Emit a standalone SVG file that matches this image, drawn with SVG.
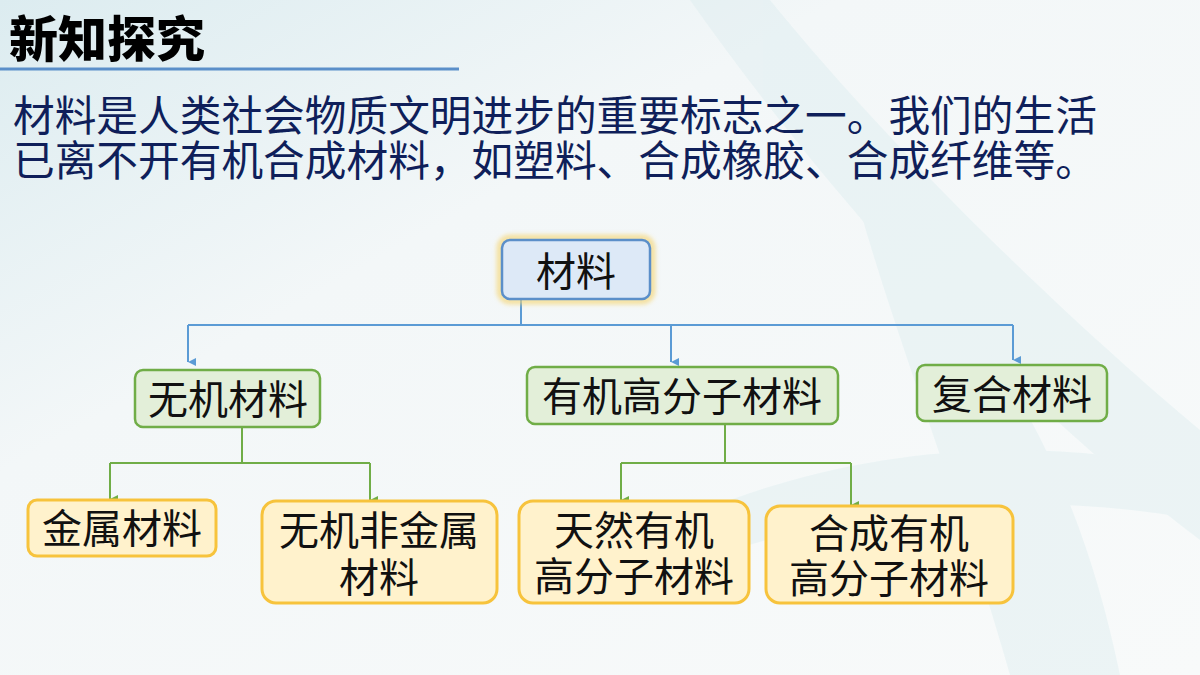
<svg xmlns="http://www.w3.org/2000/svg" width="1200" height="675" viewBox="0 0 1200 675">
  <defs>
    <linearGradient id="bg" x1="0" y1="0" x2="1" y2="1">
      <stop offset="0" stop-color="#dcecf0"/>
      <stop offset="0.35" stop-color="#f3f7f8"/>
      <stop offset="1" stop-color="#f8fafa"/>
    </linearGradient>
    <filter id="glow" x="-20%" y="-30%" width="140%" height="160%">
      <feGaussianBlur stdDeviation="2"/>
    </filter>
    <marker id="arrB" markerWidth="10" markerHeight="10" refX="5" refY="9" orient="auto" markerUnits="userSpaceOnUse">
      <path d="M1,1 L9,1 L5,9 Z" fill="#5b9bd5"/>
    </marker>
    <marker id="arrG" markerWidth="10" markerHeight="10" refX="5" refY="9" orient="auto" markerUnits="userSpaceOnUse">
      <path d="M1,1 L9,1 L5,9 Z" fill="#70ad47"/>
    </marker>
    <style>
      .cjk { font-family: "Noto Sans CJK SC", "Noto Sans", sans-serif; }
      .para { font-size: 41.7px; fill: #0f1f5a; }
      .lbl { font-size: 40px; fill: #111; text-anchor: middle; }
      .blue { fill: #dde9f7; stroke: #5b8fc9; stroke-width: 2.5; }
      .green { fill: #e3efd9; stroke: #70ad47; stroke-width: 2.5; }
      .yellow { fill: #fff2cc; stroke: #f7c33c; stroke-width: 3; }
      .cb { fill: none; stroke: #5b9bd5; stroke-width: 2; }
      .cg { fill: none; stroke: #70ad47; stroke-width: 2; }
    </style>
  </defs>

  <!-- background -->
  <rect x="0" y="0" width="1200" height="675" fill="url(#bg)"/>
  <g fill="#cfe7ea" opacity="0.28">
    <path d="M690,0 L770,0 C900,160 1080,330 1200,430 L1200,540 C1040,420 860,240 690,0 Z"/>
    <path d="M860,210 C1000,330 1080,480 1120,675 L1010,675 C960,500 900,350 860,210 Z"/>
    <path d="M600,560 C760,470 960,420 1200,470 L1200,520 C980,480 780,520 600,600 Z"/>
  </g>

  <!-- title -->
  <g id="title">
    <text x="9" y="57" class="cjk" font-size="49" font-weight="900" fill="#000">新知探究</text>
    <line x1="0" y1="69" x2="459" y2="69" stroke="#5b8fc9" stroke-width="3"/>
  </g>

  <!-- paragraph -->
  <g id="paragraph" class="cjk para">
    <text x="13" y="131">材料是人类社会物质文明进步的重要标志之一。我们的生活</text>
    <text x="13" y="176">已离不开有机合成材料，如塑料、合成橡胶、合成纤维等。</text>
  </g>

  <!-- connectors -->
  <g id="connectors">
    <path class="cb" d="M521,299 V325 M188,325 H1013"/>
    <path class="cb" d="M188,325 V362" marker-end="url(#arrB)"/>
    <path class="cb" d="M671,325 V362" marker-end="url(#arrB)"/>
    <path class="cb" d="M1013,325 V360" marker-end="url(#arrB)"/>
    <path class="cg" d="M242,427 V463 M110,463 H370"/>
    <path class="cg" d="M110,463 V499" marker-end="url(#arrG)"/>
    <path class="cg" d="M370,463 V500" marker-end="url(#arrG)"/>
    <path class="cg" d="M725,424 V463 M621,463 H851"/>
    <path class="cg" d="M621,463 V500" marker-end="url(#arrG)"/>
    <path class="cg" d="M851,463 V505" marker-end="url(#arrG)"/>
  </g>

  <!-- nodes -->
  <g id="node-cailiao">
    <rect x="500" y="238" width="152" height="63" rx="10" fill="none" stroke="#f5d77a" stroke-width="7" opacity="0.7" filter="url(#glow)"/>
    <rect x="502" y="240" width="148" height="59" rx="8" class="blue"/>
    <text x="576" y="286" class="cjk lbl">材料</text>
  </g>
  <g id="node-wuji">
    <rect x="135" y="370" width="185" height="57" rx="8" class="green"/>
    <text x="228" y="414" class="cjk lbl">无机材料</text>
  </g>
  <g id="node-youji">
    <rect x="527" y="367" width="311" height="57" rx="8" class="green"/>
    <text x="682" y="411" class="cjk lbl">有机高分子材料</text>
  </g>
  <g id="node-fuhe">
    <rect x="917" y="365" width="190" height="56" rx="8" class="green"/>
    <text x="1012" y="409" class="cjk lbl">复合材料</text>
  </g>
  <g id="node-jinshu">
    <rect x="28" y="500" width="188" height="56" rx="9" class="yellow"/>
    <text x="122" y="543" class="cjk lbl">金属材料</text>
  </g>
  <g id="node-feijinshu">
    <rect x="262" y="501" width="235" height="102" rx="14" class="yellow"/>
    <text x="379" y="545" class="cjk lbl">无机非金属</text>
    <text x="379" y="592" class="cjk lbl">材料</text>
  </g>
  <g id="node-tianran">
    <rect x="519" y="501" width="230" height="102" rx="14" class="yellow"/>
    <text x="634" y="545" class="cjk lbl">天然有机</text>
    <text x="634" y="591" class="cjk lbl">高分子材料</text>
  </g>
  <g id="node-hecheng">
    <rect x="766" y="506" width="247" height="97" rx="14" class="yellow"/>
    <text x="889" y="548" class="cjk lbl">合成有机</text>
    <text x="889" y="593" class="cjk lbl">高分子材料</text>
  </g>
</svg>
